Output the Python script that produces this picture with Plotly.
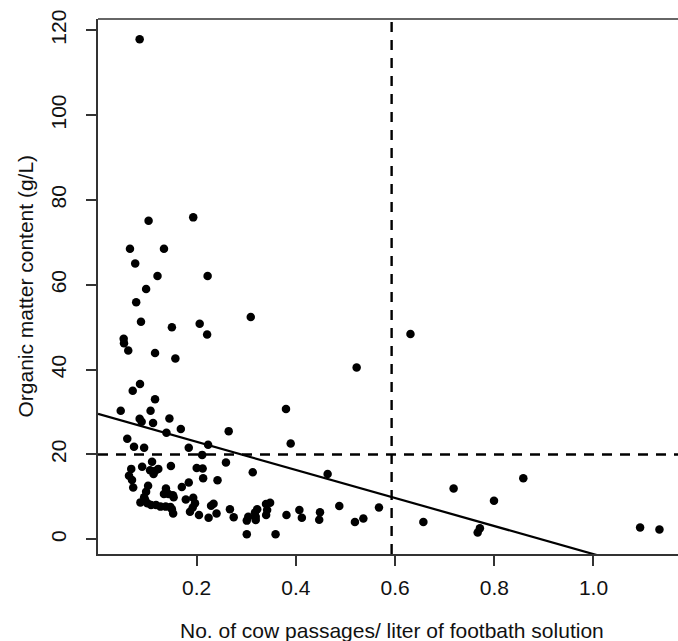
import plotly.graph_objects as go

# Data
passages = [0.085, 0.103, 0.193, 0.0655, 0.134, 0.076, 0.121, 0.222, 0.098, 0.078,
            0.309, 0.0877, 0.150, 0.206, 0.221, 0.0528, 0.0534, 0.062, 0.116, 0.157,
            0.5225, 0.631, 0.0857, 0.071, 0.116, 0.0468, 0.107, 0.380, 0.145, 0.085,
            0.089, 0.112, 0.168, 0.2645, 0.139, 0.060, 0.3895, 0.223, 0.0736, 0.094,
            0.184, 0.211, 0.110, 0.259, 0.090, 0.148, 0.106, 0.116, 0.1226, 0.113,
            0.200, 0.212, 0.313, 0.464, 0.068, 0.0635, 0.0696, 0.072, 0.213, 0.242,
            0.184, 0.170, 0.102, 0.098, 0.138, 0.143, 0.134, 0.152, 0.1535, 0.094,
            0.0865, 0.096, 0.1005, 0.108, 0.118, 0.127, 0.1375, 0.147, 0.150, 0.1525,
            0.178, 0.193, 0.1966, 0.192, 0.1865, 0.2046, 0.234, 0.229, 0.240, 0.224,
            0.267, 0.2746, 0.301, 0.304, 0.319, 0.322, 0.3175, 0.3397, 0.348, 0.342,
            0.340, 0.319, 0.301, 0.359, 0.381, 0.407, 0.412, 0.4486, 0.447, 0.4875,
            0.519, 0.536, 0.5675, 0.718, 0.8585, 0.7994, 0.657, 0.7665, 0.771, 1.094,
            1.133]
organic = [117.9, 75.1, 75.9, 68.5, 68.5, 65.0, 62.1, 62.1, 59.0, 55.9,
           52.4, 51.3, 50.0, 50.8, 48.3, 47.3, 46.2, 44.5, 43.9, 42.6,
           40.5, 48.4, 36.6, 35.0, 33.0, 30.3, 30.3, 30.7, 28.5, 28.4,
           27.7, 27.4, 26.0, 25.5, 25.1, 23.7, 22.6, 22.3, 21.8, 21.6,
           21.6, 19.9, 18.3, 18.1, 17.1, 17.3, 16.3, 16.1, 16.6, 15.4,
           16.8, 16.7, 15.8, 15.4, 16.6, 15.0, 14.0, 12.2, 14.4, 13.9,
           13.4, 12.3, 12.6, 11.2, 12.0, 10.7, 10.7, 10.4, 9.9, 9.9,
           8.7, 9.3, 8.5, 8.1, 8.1, 7.7, 7.7, 7.6, 7.1, 6.1,
           9.4, 9.8, 8.5, 7.5, 6.5, 5.7, 8.4, 7.9, 6.1, 5.1,
           7.1, 5.2, 4.4, 5.3, 5.3, 7.1, 6.3, 8.3, 8.6, 6.9,
           5.7, 4.55, 1.2, 1.2, 5.7, 6.9, 5.1, 6.4, 4.6, 7.85,
           4.1, 4.9, 7.5, 12.0, 14.4, 9.1, 4.1, 1.6, 2.6, 2.8,
           2.3]

fit_intercept = 29.6
fit_slope = -33.1
threshold_x = 0.593
threshold_y = 20

x_ticks = [0.2, 0.4, 0.6, 0.8, 1.0]
x_ticklabels = ["0.2", "0.4", "0.6", "0.8", "1.0"]
y_ticks = [0, 20, 40, 60, 80, 100, 120]
y_ticklabels = ["0", "20", "40", "60", "80", "100", "120"]

x_range = [0.001, 1.1704]
y_range = [-3.47, 122.67]

FONT = "Arial, Liberation Sans, sans-serif"
FS = 21

fig = go.Figure()

fig.add_trace(go.Scatter(
    x=passages, y=organic, mode="markers",
    marker=dict(color="black", size=8.5, line=dict(width=0)),
    showlegend=False, hoverinfo="x+y"))

fit_x = [x_range[0], x_range[1]]
fit_y = [fit_intercept + fit_slope * v for v in fit_x]
fig.add_trace(go.Scatter(
    x=fit_x, y=fit_y, mode="lines",
    line=dict(color="black", width=2.2), showlegend=False, hoverinfo="skip"))

# threshold dashed lines
fig.add_shape(type="line", xref="x", yref="paper", x0=threshold_x, x1=threshold_x,
              y0=0, y1=1, line=dict(color="black", width=2.4, dash="10px,8px"))
fig.add_shape(type="line", xref="paper", yref="y", x0=0, x1=1,
              y0=threshold_y, y1=threshold_y,
              line=dict(color="black", width=2.4, dash="10px,8px"))
# top border of box
fig.add_shape(type="line", xref="paper", yref="paper", x0=0, x1=1, y0=1, y1=1,
              line=dict(color="#333333", width=1.6))

fig.update_xaxes(range=x_range, tickvals=x_ticks, ticktext=x_ticklabels,
                 showgrid=False, zeroline=False, showline=True,
                 linecolor="#333333", linewidth=1.6,
                 ticks="outside", ticklen=10, tickwidth=1.5, tickcolor="#333333",
                 ticklabelstandoff=4,
                 tickfont=dict(family=FONT, size=FS, color="#111111"))
fig.update_yaxes(range=y_range, tickvals=y_ticks, ticktext=y_ticklabels,
                 showgrid=False, zeroline=False, showline=True,
                 linecolor="#333333", linewidth=1.6,
                 ticks="outside", ticklen=10, tickwidth=1.5, tickcolor="#333333",
                 tickangle=-90, ticklabelstandoff=12,
                 tickfont=dict(family=FONT, size=FS, color="#111111"))

fig.add_annotation(text="No. of cow passages/ liter of footbath solution",
                   xref="x", yref="paper", x=0.594, y=0, yshift=-76,
                   showarrow=False, font=dict(family=FONT, size=FS, color="#111111"),
                   xanchor="center", yanchor="middle")
fig.add_annotation(text="Organic matter content (g/L)",
                   xref="paper", yref="paper", x=0, y=0.5, xshift=-73,
                   textangle=-90, showarrow=False,
                   font=dict(family=FONT, size=FS, color="#111111"),
                   xanchor="center", yanchor="middle")

fig.update_layout(width=678, height=641,
                  margin=dict(l=98, r=0, t=19, b=87),
                  plot_bgcolor="white", paper_bgcolor="white")

fig.write_html("out.html", config={"displayModeBar": False},
               post_script="document.body.style.margin='0';document.body.style.overflow='hidden';")
